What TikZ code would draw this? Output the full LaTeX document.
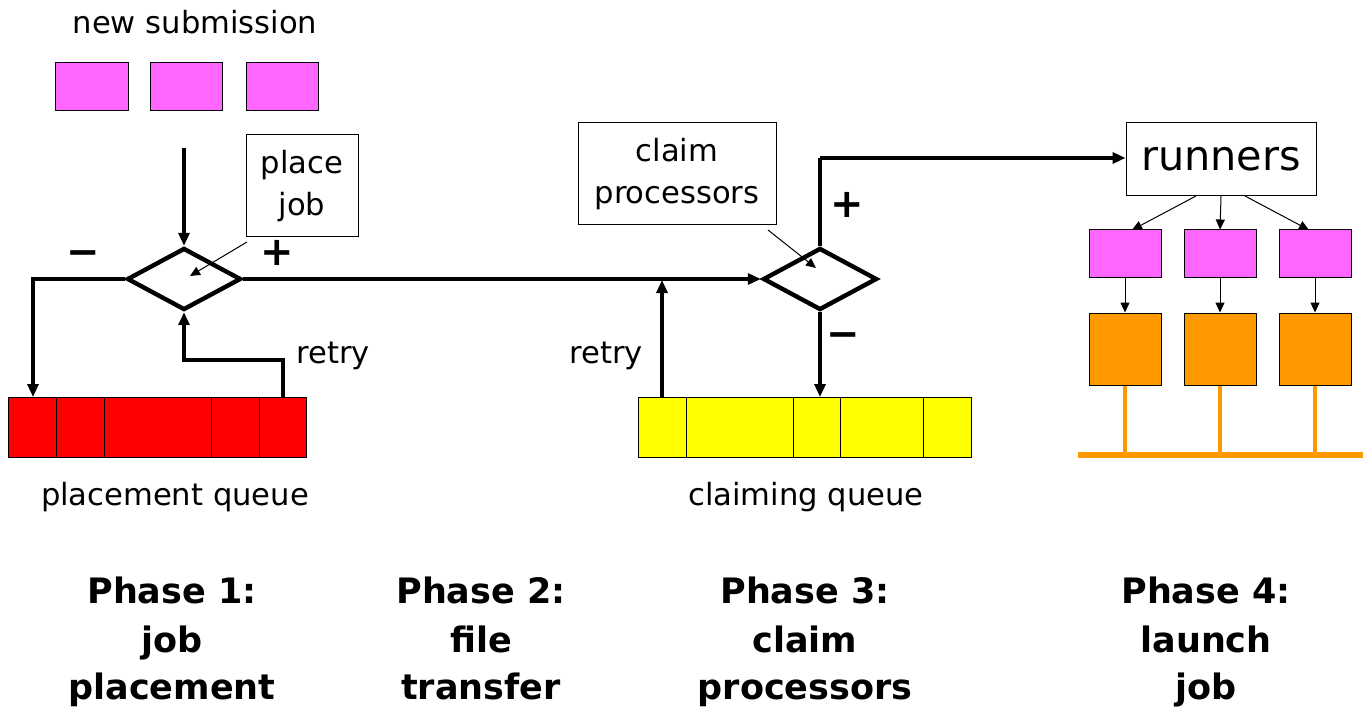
\documentclass[tikz,border=0pt]{standalone}
\usepackage{fontspec}
\setmainfont{DejaVu Sans}
\usetikzlibrary{shapes.geometric,arrows.meta,fit}
\definecolor{pinkbox}{HTML}{FF66FF}
\definecolor{orangebox}{HTML}{FF9900}
\definecolor{redq}{HTML}{FF0000}
\definecolor{yellowq}{HTML}{FFFF00}
\begin{document}
\begin{tikzpicture}[x=0.5pt,y=-0.5pt,
 box/.style={draw=black, line width=0.5pt, inner sep=0pt},
 dec/.style={draw=black, diamond, line width=2.2pt, minimum width=57pt, minimum height=31pt, inner sep=0pt},
 flow/.style={line width=1.7pt, -{Triangle[length=6.5pt,width=5.5pt]}},
 flowp/.style={line width=1.7pt},
 pointer/.style={line width=0.5pt, -{Triangle[length=5pt,width=4.5pt]}},
 lbl/.style={font=\fontsize{15.3}{21}\selectfont, align=center, inner sep=0pt},
 sign/.style={font=\fontsize{20}{20}\selectfont\bfseries, inner sep=0pt},
 phase/.style={font=\fontsize{17.5}{24}\selectfont\bfseries, align=center, inner sep=0pt, anchor=north},
 bus/.style={draw=orangebox, line width=2pt},
]
\useasboundingbox (0,0) rectangle (1369,711);

% new submission
\node[lbl] (ns) at (195,22) {new submission};
\node[box, fill=pinkbox, fit={(55,63)(128,111)}] (s1) {};
\node[box, fill=pinkbox, fit={(150,63)(222,111)}] (s2) {};
\node[box, fill=pinkbox, fit={(246,63)(318,111)}] (s3) {};

% diamond 1
\node[dec] (d1) at (184,279) {};
\coordinate (in1) at (184,148);
\draw[flow] (in1) -- (d1.north);
\node[box, lbl, fit={(246,135)(358,237)}] (pj) {};
\node[lbl] at (pj.center) {place\\job};
\coordinate (pjt) at (247,242);
\draw[pointer] (pjt) -- (190,276);
\node[sign] (m1) at (83,258) {−};
\node[sign] (p1s) at (277,253) {+};

% placement queue
\node[box, fill=redq, fit={(8,397)(306,457)}] (pq) {};
\foreach \x in {56,104,211,259} \draw[line width=0.5pt] (\x,397) -- (\x,457);
\node[lbl] (pql) at (175,497) {placement queue};
\coordinate (pqin) at (33,397);
\draw[flow] (d1.west) -| (pqin);
\coordinate (pqout) at (283,397);
\coordinate (rt1) at (184,360);
\draw[flow] (pqout) |- (rt1) -- (d1.south);
\node[lbl] (r1) at (333,356) {retry};

% diamond 2
\node[dec] (d2) at (820,279) {};
\draw[flow] (d1.east) -- (d2.west);
\node[box, fit={(578,123)(776,225)}] (cp) {};
\node[lbl] at (cp.center) {claim\\processors};
\coordinate (cpt) at (768,230);
\draw[pointer] (cpt) -- (816,268);
\node[sign] (p2s) at (847,205) {+};
\node[sign] (m2) at (843,340) {−};

% claiming queue
\node[box, fill=yellowq, fit={(638,397)(971,457)}] (cq) {};
\foreach \x in {686,793,840,923} \draw[line width=0.5pt] (\x,397) -- (\x,457);
\node[lbl] (cql) at (806,497) {claiming queue};
\coordinate (cqout) at (662,397);
\coordinate (jn) at (662,280);
\draw[flow] (cqout) -- (jn);
\node[lbl] (r2) at (606,356) {retry};
\coordinate (cqin) at (820,397);
\draw[flow] (d2.south) -- (cqin);

% runners
\node[box, fit={(1126,123)(1316,196)}] (run) {};
\node[font=\fontsize{20.7}{24}\selectfont, inner sep=0pt] at (run.center) {runners};
\coordinate (corner) at (820,158);
\draw[flowp] (d2.north) -- (corner);
\coordinate (rin) at (run.west |- corner);
\draw[flow] (corner) -- (rin);

\node[box, fill=pinkbox, fit={(1089,230)(1161,277)}] (q1) {};
\node[box, fill=pinkbox, fit={(1184,230)(1256,277)}] (q2) {};
\node[box, fill=pinkbox, fit={(1279,230)(1351,277)}] (q3) {};
\node[box, fill=orangebox, fit={(1089,313)(1161,385)}] (o1) {};
\node[box, fill=orangebox, fit={(1184,313)(1256,385)}] (o2) {};
\node[box, fill=orangebox, fit={(1279,313)(1351,385)}] (o3) {};
\coordinate (ra) at (1196,196);
\coordinate (rb) at (1221,196);
\coordinate (rc) at (1245,196);
\coordinate (qa) at (1132,230);
\coordinate (qc) at (1309,230);
\draw[pointer] (ra) -- (qa);
\draw[pointer] (rb) -- (q2.north);
\draw[pointer] (rc) -- (qc);
\draw[pointer] (q1.south) -- (o1.north);
\draw[pointer] (q2.south) -- (o2.north);
\draw[pointer] (q3.south) -- (o3.north);
\coordinate (ba) at (1125,455);
\coordinate (bb) at (1220,455);
\coordinate (bc) at (1315,455);
\draw[bus] (o1.south) -- (ba);
\draw[bus] (o2.south) -- (bb);
\draw[bus] (o3.south) -- (bc);
\coordinate (bl) at (1078,455);
\coordinate (br) at (1363,455);
\draw[draw=orangebox, line width=3pt] (bl) -- (br);

% phases
\node[phase] (ph1) at (172,577) {Phase 1:\\job\\placement};
\node[phase] (ph2) at (481,577) {Phase 2:\\file\\transfer};
\node[phase] (ph3) at (805,577) {Phase 3:\\claim\\processors};
\node[phase] (ph4) at (1206,577) {Phase 4:\\launch\\job};
\end{tikzpicture}
\end{document}
